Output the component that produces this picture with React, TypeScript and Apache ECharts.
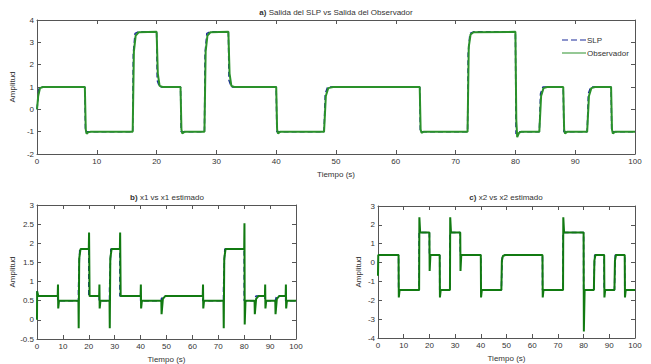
import React, { useEffect, useRef } from "react";
import * as echarts from "echarts";

// ---- data (t in seconds, amplitude) ----
const xTicks = [0, 10, 20, 30, 40, 50, 60, 70, 80, 90, 100];

const slpTop: number[][] = [
  [0, 0], [0.3, 0.9], [0.6, 1], [8, 1], [8.1, -1], [16, -1], [16.1, 2.5], [16.4, 3.4], [17, 3.47],
  [20, 3.47], [20.1, 1.3], [20.5, 1], [24, 1], [24.1, -1], [28, -1], [28.1, 2.5], [28.4, 3.4], [29, 3.47],
  [32, 3.47], [32.1, 1.3], [32.5, 1], [40, 1], [40.1, -1], [48, -1], [48.2, 0.7], [48.6, 1], [64, 1],
  [64.1, -1], [72, -1], [72.1, 2.5], [72.4, 3.4], [73, 3.47], [80, 3.47], [80.1, -1.1], [80.4, -1],
  [84, -1], [84.2, 0.7], [84.6, 1], [88, 1], [88.1, -1], [92, -1], [92.2, 0.7], [92.6, 1], [96, 1],
  [96.1, -1], [100, -1],
];

const obsTop: number[][] = [
  [0, 0], [0.2, 0.6], [0.5, 0.95], [1, 1], [8, 1], [8.15, -0.9], [8.3, -1.1], [8.6, -1.02], [9, -1],
  [16, -1], [16.2, 2.6], [16.5, 3.3], [17, 3.45], [20, 3.47], [20.2, 1.6], [20.5, 1.05], [21, 1],
  [24, 1], [24.15, -0.9], [24.3, -1.08], [24.7, -1],
  [28, -1], [28.2, 2.6], [28.5, 3.3], [29, 3.45], [32, 3.47], [32.2, 1.6], [32.5, 1.05], [33, 1],
  [40, 1], [40.15, -0.9], [40.3, -1.08], [40.7, -1],
  [48, -1], [48.3, 0.6], [48.7, 0.95], [49.5, 1],
  [64, 1], [64.15, -0.9], [64.3, -1.05], [64.7, -1],
  [72, -1], [72.2, 2.8], [72.5, 3.35], [73, 3.45], [80, 3.47], [80.15, -0.5], [80.3, -1.25], [80.6, -1.05], [81, -1],
  [84, -1], [84.3, 0.6], [84.7, 0.95], [85.3, 1],
  [88, 1], [88.15, -0.9], [88.3, -1.08], [88.7, -1],
  [92, -1], [92.3, 0.6], [92.7, 0.95], [93.3, 1],
  [96, 1], [96.15, -0.9], [96.3, -1.08], [96.7, -1], [100, -1],
];

const x1Real: number[][] = [
  [0, 0.75], [0.3, 0.62], [8, 0.62], [8, 0.5], [16, 0.5], [16, 0.8], [16.5, 1.85], [20, 1.85], [20, 0.62],
  [24, 0.62], [24, 0.5], [28, 0.5], [28, 0.8], [28.5, 1.85], [32, 1.85], [32, 0.62], [40, 0.62], [40, 0.5],
  [48, 0.5], [48, 0.55], [49, 0.62], [64, 0.62], [64, 0.5], [72, 0.5], [72, 0.8], [72.5, 1.85], [80, 1.85],
  [80, 0.5], [84, 0.5], [84.5, 0.62], [88, 0.62], [88, 0.5], [92, 0.5], [92.5, 0.62], [96, 0.62], [96, 0.5],
  [100, 0.5],
];

const x1Est: number[][] = [
  [0, 0], [0.05, 0.75], [0.5, 0.62], [8, 0.62], [8.1, 0.92], [8.2, 0.3], [8.5, 0.5], [16, 0.5], [16.1, -0.22],
  [16.3, 1.6], [16.8, 1.85], [20, 1.85], [20.1, 2.28], [20.3, 0.62], [24, 0.62], [24.1, 0.92], [24.2, 0.3],
  [24.5, 0.5], [28, 0.5], [28.1, -0.22], [28.3, 1.6], [28.8, 1.85], [32, 1.85], [32.1, 2.28], [32.3, 0.62],
  [40, 0.62], [40.1, 0.92], [40.2, 0.3], [40.5, 0.5], [48, 0.5], [48.1, 0.15], [48.6, 0.55], [49.5, 0.62],
  [64, 0.62], [64.1, 0.92], [64.2, 0.3], [64.5, 0.5], [72, 0.5], [72.1, -0.22], [72.3, 1.6], [72.8, 1.85],
  [80, 1.85], [80.1, 2.52], [80.2, -0.12], [80.5, 0.5], [84, 0.5], [84.1, 0.15], [84.6, 0.55], [85.5, 0.62],
  [88, 0.62], [88.1, 0.92], [88.2, 0.3], [88.5, 0.5], [92, 0.5], [92.1, 0.15], [92.6, 0.55], [93.5, 0.62],
  [96, 0.62], [96.1, 0.92], [96.2, 0.3], [96.5, 0.5], [100, 0.5],
];

const x2Real: number[][] = [
  [0, 0.4], [8, 0.4], [8, -1.45], [16, -1.45], [16, 1.6], [20, 1.6], [20, 0.4], [24, 0.4], [24, -1.45],
  [28, -1.45], [28, 1.6], [32, 1.6], [32, 0.4], [40, 0.4], [40, -1.45], [48, -1.45], [48.3, 0.3], [49, 0.4],
  [64, 0.4], [64, -1.45], [72, -1.45], [72, 1.6], [80, 1.6], [80, -1.45], [84, -1.45], [84.3, 0.4], [88, 0.4],
  [88, -1.45], [92, -1.45], [92.3, 0.4], [96, 0.4], [96, -1.45], [100, -1.45],
];

const x2Est: number[][] = [
  [0, -0.7], [0.1, 0.4], [8, 0.4], [8.1, -1.85], [8.4, -1.45], [16, -1.45], [16.1, 2.4], [16.4, 1.6],
  [20, 1.6], [20.1, -0.45], [20.4, 0.4], [24, 0.4], [24.1, -1.85], [24.4, -1.45], [28, -1.45], [28.1, 2.4],
  [28.4, 1.6], [32, 1.6], [32.1, -0.45], [32.4, 0.4], [40, 0.4], [40.1, -1.85], [40.4, -1.45], [48, -1.45],
  [48.2, 0.1], [48.6, 0.35], [49.5, 0.4], [64, 0.4], [64.1, -1.85], [64.4, -1.45], [72, -1.45], [72.1, 2.4],
  [72.4, 1.6], [80, 1.6], [80.1, -3.65], [80.4, -1.45], [84, -1.45], [84.2, 0.1], [84.6, 0.4], [88, 0.4],
  [88.1, -1.85], [88.4, -1.45], [92, -1.45], [92.2, 0.1], [92.6, 0.4], [96, 0.4], [96.1, -1.85],
  [96.4, -1.45], [100, -1.45],
];

const FONT = "Liberation Sans";
const AXIS_COLOR = "#555";
const TEXT_COLOR = "#333";
const GREEN_TOP = "#2a912a";
const GREEN_BOT = "#117a11";
const BLUE = "#1a2a9a";

function axesFor(gi: number, yMin: number, yMax: number, yInt: number, nameGapY: number) {
  const common = {
    gridIndex: gi,
    axisLine: { show: true, onZero: false, lineStyle: { color: AXIS_COLOR, width: 1 } },
    axisTick: { show: true, inside: true, length: 4, lineStyle: { color: AXIS_COLOR } },
    splitLine: { show: false },
  };
  const xs = [
    {
      ...common,
      type: "value",
      position: "bottom",
      min: 0,
      max: 100,
      interval: 10,
      name: "Tiempo (s)",
      nameLocation: "middle",
      nameGap: 16,
      nameTextStyle: { fontSize: 8, color: TEXT_COLOR, fontFamily: FONT },
      axisLabel: { fontSize: 8, color: TEXT_COLOR, fontFamily: FONT, margin: 3,
        formatter: (v: number) => (xTicks.includes(v) ? String(v) : "") },
    },
    {
      ...common,
      type: "value",
      position: "top",
      min: 0,
      max: 100,
      interval: 10,
      axisLabel: { show: false },
    },
  ];
  const ys = [
    {
      ...common,
      type: "value",
      position: "left",
      min: yMin,
      max: yMax,
      interval: yInt,
      name: "Amplitud",
      nameLocation: "middle",
      nameGap: nameGapY,
      nameTextStyle: { fontSize: 8, color: TEXT_COLOR, fontFamily: FONT },
      axisLabel: { fontSize: 8, color: TEXT_COLOR, fontFamily: FONT, margin: 3 },
    },
    {
      ...common,
      type: "value",
      position: "right",
      min: yMin,
      max: yMax,
      interval: yInt,
      axisLabel: { show: false },
    },
  ];
  return { xs, ys };
}

export default function App() {
  const ref = useRef<HTMLDivElement>(null);
  useEffect(() => {
    if (!ref.current) return;
    const chart = echarts.init(ref.current, undefined, { renderer: "svg" });
    const a0 = axesFor(0, -2, 4, 1, 20);
    const a1 = axesFor(1, -0.5, 3, 0.5, 20);
    const a2 = axesFor(2, -4, 3, 1, 16);
    const xAxis = [...a0.xs, ...a1.xs, ...a2.xs];
    const yAxis = [...a0.ys, ...a1.ys, ...a2.ys];
    const lineBase = { type: "line", showSymbol: false, symbol: "none", animation: false };
    chart.setOption({
      animation: false,
      backgroundColor: "#ffffff",
      textStyle: { fontFamily: FONT },
      grid: [
        { left: 37, top: 20, width: 598, height: 134 },
        { left: 37, top: 205, width: 259, height: 134 },
        { left: 378, top: 206, width: 257, height: 132 },
      ],
      xAxis,
      yAxis,
      legend: {
        data: [
          { name: "SLP", icon: "path://M0 0h6v1H0z M9 0h6v1H9z M18 0h6v1h-6z" },
          { name: "Observador", icon: "path://M0 0h24v1H0z" },
        ],
        orient: "vertical",
        left: 557,
        top: 31,
        itemWidth: 24,
        itemHeight: 2,
        itemGap: 5,
        textStyle: { fontSize: 8, color: TEXT_COLOR, fontFamily: FONT, padding: [0, 0, 0, -4] },
      },
      series: [
        { ...lineBase, name: "SLP", xAxisIndex: 0, yAxisIndex: 0, data: slpTop,
          lineStyle: { color: BLUE, width: 1.5, type: [5, 3] }, itemStyle: { color: BLUE } },
        { ...lineBase, name: "Observador", xAxisIndex: 0, yAxisIndex: 0, data: obsTop,
          lineStyle: { color: GREEN_TOP, width: 2 }, itemStyle: { color: GREEN_TOP } },
        { ...lineBase, name: "x1", xAxisIndex: 2, yAxisIndex: 2, data: x1Real,
          lineStyle: { color: BLUE, width: 1.5, type: [5, 3] } },
        { ...lineBase, name: "x1 estimado", xAxisIndex: 2, yAxisIndex: 2, data: x1Est,
          lineStyle: { color: GREEN_BOT, width: 2 } },
        { ...lineBase, name: "x2", xAxisIndex: 4, yAxisIndex: 4, data: x2Real,
          lineStyle: { color: BLUE, width: 1.5, type: [5, 3] } },
        { ...lineBase, name: "x2 estimado", xAxisIndex: 4, yAxisIndex: 4, data: x2Est,
          lineStyle: { color: GREEN_BOT, width: 2 } },
      ],
      graphic: [
        { type: "text", x: 336, y: 12, style: { text: "{b|a)} Salida del SLP vs Salida del Observador",
          fontSize: 8, fill: TEXT_COLOR, fontFamily: FONT, align: "center", verticalAlign: "middle",
          rich: { b: { fontWeight: "bold", fontSize: 8, fontFamily: FONT } } } },
        { type: "text", x: 167, y: 197, style: { text: "{b|b)} x1 vs x1 estimado",
          fontSize: 8, fill: TEXT_COLOR, fontFamily: FONT, align: "center", verticalAlign: "middle",
          rich: { b: { fontWeight: "bold", fontSize: 8, fontFamily: FONT } } } },
        { type: "text", x: 506, y: 197, style: { text: "{b|c)} x2 vs x2 estimado",
          fontSize: 8, fill: TEXT_COLOR, fontFamily: FONT, align: "center", verticalAlign: "middle",
          rich: { b: { fontWeight: "bold", fontSize: 8, fontFamily: FONT } } } },
      ],
    });
    return () => chart.dispose();
  }, []);
  return (
    <div
      ref={ref}
      style={{ position: "fixed", left: 0, top: 0, width: 651, height: 364, background: "#fff" }}
    />
  );
}
